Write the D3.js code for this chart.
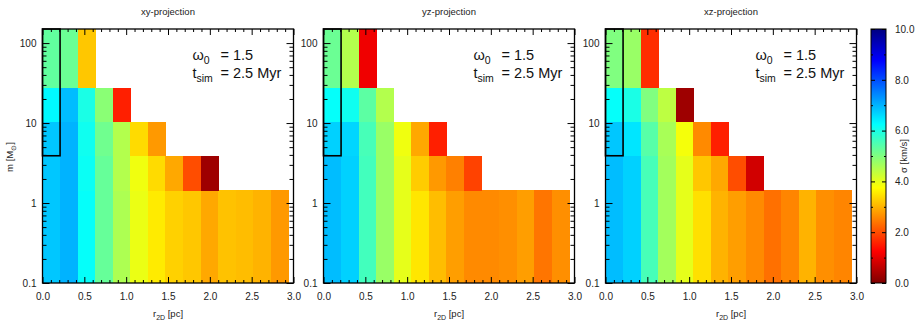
<!DOCTYPE html>
<html>
<head>
<meta charset="utf-8">
<script src="https://cdn.jsdelivr.net/npm/d3@7"></script>
<style>
  html, body { margin: 0; padding: 0; background: #fff; }
  svg { display: block; font-family: "Liberation Sans", Arial, sans-serif; }
</style>
</head>
<body>
<svg id="chart" width="920" height="323"></svg>
<script>
// ---------------- data ----------------
const projections = ["xy-projection", "yz-projection", "xz-projection"];
const rBinWidth = 0.21;                         // pc
const massEdges = [0.1, 1.45, 3.9, 10.4, 27.6, 150]; // Msun
// sigma [km/s]; each array: rows from low-mass bin to high-mass bin, columns = radial bins
const sigmaXY = [
  [6.8, 7.0, 6.2, 5.25, 4.55, 3.95, 3.55, 3.3, 3.2, 2.9, 3.15, 3.1, 3.0, 2.75],
  [6.8, 7.0, 6.15, 5.25, 4.5, 3.9, 3.4, 2.9, 2.0, 0.3],
  [6.8, 7.0, 6.1, 5.15, 4.5, 3.4, 2.75],
  [6.3, 6.9, 6.0, 4.9, 1.55],
  [5.3, 5.2, 3.2]
];
const sigmaYZ = [
  [6.9, 6.7, 5.6, 4.75, 4.0, 3.5, 3.1, 2.8, 2.6, 2.6, 2.65, 2.8, 2.4, 2.65],
  [6.9, 6.7, 5.6, 4.75, 4.0, 3.25, 2.75, 2.5, 1.9],
  [6.7, 6.65, 5.55, 4.75, 3.9, 2.9, 1.55],
  [6.2, 6.1, 5.35, 4.5],
  [5.2, 4.5, 1.1]
];
const sigmaXZ = [
  [6.9, 6.7, 5.55, 4.65, 4.0, 3.45, 3.0, 2.8, 2.6, 2.35, 2.55, 3.0, 2.65, 2.55],
  [6.9, 6.7, 5.55, 4.65, 4.0, 3.2, 2.9, 2.0, 0.8],
  [6.8, 6.5, 5.4, 4.6, 3.85, 2.6, 1.55],
  [6.2, 6.0, 5.0, 4.4, 0.3],
  [5.0, 4.75, 1.7]
];
const panelData = [sigmaXY, sigmaYZ, sigmaXZ];
// highlighted region (r, m ranges)
const boxR = [0, 0.21];
const boxM = [3.9, 150];
const xTicksMajor = [0, 0.5, 1.0, 1.5, 2.0, 2.5, 3.0];
const yTicksMajor = [0.1, 1, 10, 100];
const yTickLabels = ["0.1", "1", "10", "100"];
const cbTicksMajor = [0, 2, 4, 6, 8, 10];
const cbTicksMinor = [1, 3, 5, 7, 9];
const annotOmega = "1.5";
const annotTime = "2.5 Myr";

// ---------------- layout ----------------
const svg = d3.select("#chart");
const panelX0 = [42.5, 323.5, 605.5];
const panelW = 251;
const plotTop = 29, plotBottom = 283;

const y = d3.scaleLog().domain([0.1, 150]).range([plotBottom, plotTop]);
const color = d3.scaleLinear()
  .domain([0, 1.25, 3.75, 6.25, 8.75, 10])
  .range(["#800000", "#ff0000", "#ffff00", "#00ffff", "#0000ff", "#000080"])
  .interpolate(d3.interpolateRgb)
  .clamp(true);

// minor ticks
const xMinor = d3.range(0, 31).map(i => i / 10).filter(v => Math.abs(v * 2 - Math.round(v * 2)) > 1e-6);
const yMinor = [];
[0.1, 1, 10, 100].forEach(d => { for (let k = 2; k <= 9; k++) { const v = d * k; if (v <= 150) yMinor.push(v); } });

function styleAxis(g) {
  g.select(".domain").remove();
  g.selectAll(".tick line").attr("stroke", "#000").attr("stroke-width", 1);
  g.selectAll(".tick text").attr("fill", "#222").attr("font-size", 10)
    .attr("font-family", "Liberation Sans, Arial, sans-serif");
}

panelData.forEach((data, p) => {
  const x0 = panelX0[p];
  const x = d3.scaleLinear().domain([0, 3]).range([x0, x0 + panelW]);
  const g = svg.append("g");

  // cells
  const cells = [];
  data.forEach((row, i) => {
    row.forEach((v, j) => {
      cells.push({ r0: j * rBinWidth, r1: (j + 1) * rBinWidth, m0: massEdges[i], m1: massEdges[i + 1], v });
    });
  });
  g.append("g").selectAll("rect").data(cells).join("rect")
    .attr("x", d => x(d.r0))
    .attr("y", d => y(d.m1))
    .attr("width", d => x(d.r1) - x(d.r0) + 0.4)
    .attr("height", d => y(d.m0) - y(d.m1) + 0.4)
    .attr("fill", d => color(d.v))
    .attr("shape-rendering", "crispEdges");

  // highlight box
  g.append("rect")
    .attr("x", x(boxR[0]))
    .attr("y", y(boxM[1]))
    .attr("width", x(boxR[1]) - x(boxR[0]))
    .attr("height", y(boxM[0]) - y(boxM[1]))
    .attr("fill", "none").attr("stroke", "#000").attr("stroke-width", 1.6);

  // axes
  g.append("g").attr("transform", `translate(0,${plotBottom})`)
    .call(d3.axisBottom(x).tickValues(xTicksMajor).tickSize(-6).tickPadding(10).tickFormat(d3.format(".1f")))
    .call(styleAxis);
  g.append("g").attr("transform", `translate(0,${plotBottom})`)
    .call(d3.axisBottom(x).tickValues(xMinor).tickSize(-3).tickFormat(""))
    .call(styleAxis);
  g.append("g").attr("transform", `translate(0,${plotTop})`)
    .call(d3.axisTop(x).tickValues(xTicksMajor).tickSize(-6).tickFormat(""))
    .call(styleAxis);
  g.append("g").attr("transform", `translate(0,${plotTop})`)
    .call(d3.axisTop(x).tickValues(xMinor).tickSize(-3).tickFormat(""))
    .call(styleAxis);

  g.append("g").attr("transform", `translate(${x0},0)`)
    .call(d3.axisLeft(y).tickValues(yTicksMajor).tickSize(-7).tickPadding(6)
      .tickFormat((d, i) => yTickLabels[i]))
    .call(styleAxis);
  g.append("g").attr("transform", `translate(${x0},0)`)
    .call(d3.axisLeft(y).tickValues(yMinor).tickSize(-4).tickFormat(""))
    .call(styleAxis);
  g.append("g").attr("transform", `translate(${x0 + panelW},0)`)
    .call(d3.axisRight(y).tickValues(yTicksMajor).tickSize(-7).tickFormat(""))
    .call(styleAxis);
  g.append("g").attr("transform", `translate(${x0 + panelW},0)`)
    .call(d3.axisRight(y).tickValues(yMinor).tickSize(-4).tickFormat(""))
    .call(styleAxis);

  // frame
  g.append("rect").attr("x", x0).attr("y", plotTop).attr("width", panelW).attr("height", plotBottom - plotTop)
    .attr("fill", "none").attr("stroke", "#000").attr("stroke-width", 1.3);

  // title
  g.append("text").attr("x", x0 + panelW / 2).attr("y", 14.5)
    .attr("text-anchor", "middle").attr("font-size", 9.5).attr("fill", "#222")
    .text(projections[p]);

  // x label
  const xl = g.append("text").attr("x", x0 + panelW / 2).attr("y", 317)
    .attr("text-anchor", "middle").attr("font-size", 9.5).attr("fill", "#222");
  xl.append("tspan").text("r");
  xl.append("tspan").attr("font-size", 7).attr("dy", 2.5).text("2D");
  xl.append("tspan").attr("dy", -2.5).text(" [pc]");

  // annotation
  const ax = x0 + 150;
  const t1 = g.append("text").attr("x", ax).attr("y", 60).attr("font-size", 14.5).attr("fill", "#111");
  t1.append("tspan").text("ω");
  t1.append("tspan").attr("font-size", 10.5).attr("dy", 4).text("0");
  g.append("text").attr("x", ax + 28).attr("y", 60).attr("font-size", 14.5).attr("fill", "#111")
    .text("= " + annotOmega);
  const t2 = g.append("text").attr("x", ax).attr("y", 78).attr("font-size", 14.5).attr("fill", "#111");
  t2.append("tspan").text("t");
  t2.append("tspan").attr("font-size", 10.5).attr("dy", 4).text("sim");
  g.append("text").attr("x", ax + 28).attr("y", 78).attr("font-size", 14.5).attr("fill", "#111")
    .text("= " + annotTime);
});

// y label (left)
const yl = svg.append("text").attr("transform", `translate(13,157) rotate(-90)`)
  .attr("text-anchor", "middle").attr("font-size", 9.5).attr("fill", "#222");
yl.append("tspan").text("m [M");
yl.append("tspan").attr("font-size", 7).attr("dy", 2.5).text("⊙");
yl.append("tspan").attr("dy", -2.5).text("]");

// ---------------- colorbar ----------------
const cbX = 871, cbW = 15;
const cbY = d3.scaleLinear().domain([0, 10]).range([plotBottom, plotTop]);
const defs = svg.append("defs");
const grad = defs.append("linearGradient").attr("id", "cbgrad")
  .attr("x1", 0).attr("y1", 1).attr("x2", 0).attr("y2", 0);
d3.range(0, 10.01, 0.25).forEach(v => {
  grad.append("stop").attr("offset", v / 10).attr("stop-color", color(v));
});
svg.append("rect").attr("x", cbX).attr("y", plotTop).attr("width", cbW).attr("height", plotBottom - plotTop)
  .attr("fill", "url(#cbgrad)");
const cbg = svg.append("g");
cbg.append("g").attr("transform", `translate(${cbX + cbW},0)`)
  .call(d3.axisRight(cbY).tickValues(cbTicksMajor).tickSize(-4).tickPadding(9).tickFormat(d3.format(".1f")))
  .call(styleAxis);
cbg.append("g").attr("transform", `translate(${cbX + cbW},0)`)
  .call(d3.axisRight(cbY).tickValues(cbTicksMinor).tickSize(-2).tickFormat(""))
  .call(styleAxis);
cbg.append("g").attr("transform", `translate(${cbX},0)`)
  .call(d3.axisLeft(cbY).tickValues(cbTicksMajor).tickSize(-4).tickFormat(""))
  .call(styleAxis);
cbg.append("g").attr("transform", `translate(${cbX},0)`)
  .call(d3.axisLeft(cbY).tickValues(cbTicksMinor).tickSize(-2).tickFormat(""))
  .call(styleAxis);
svg.append("rect").attr("x", cbX).attr("y", plotTop).attr("width", cbW).attr("height", plotBottom - plotTop)
  .attr("fill", "none").attr("stroke", "#000").attr("stroke-width", 1);
svg.append("text").attr("transform", `translate(907,156) rotate(-90)`)
  .attr("text-anchor", "middle").attr("font-size", 9.5).attr("fill", "#222")
  .text("σ [km/s]");
</script>
</body>
</html>
